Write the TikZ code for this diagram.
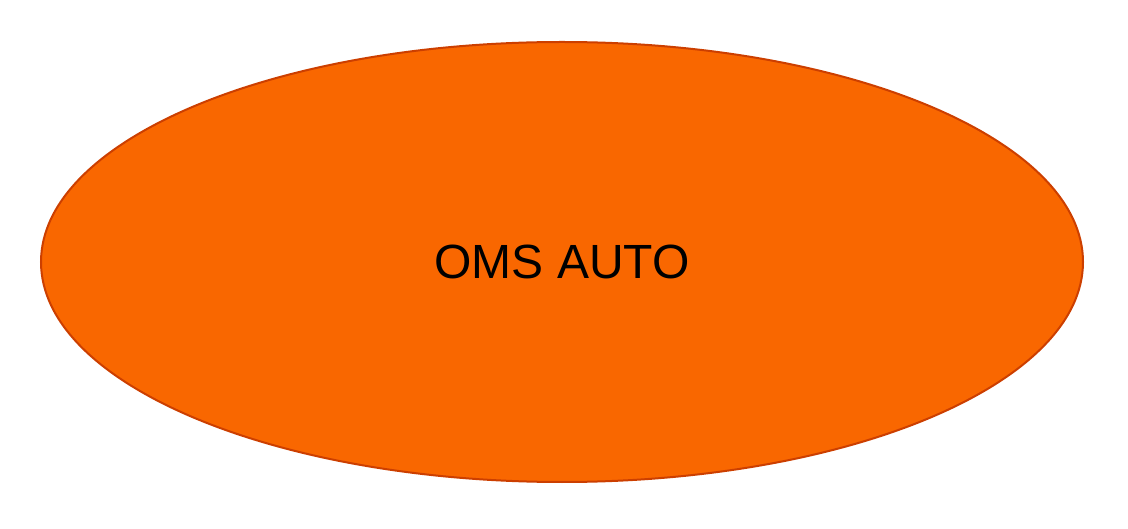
\documentclass[tikz,border=0pt]{standalone}
\usepackage{fontspec}
\setmainfont{Liberation Sans}
\definecolor{fillor}{HTML}{F96700}
\definecolor{lineor}{HTML}{CC3F00}
\tikzset{oval/.style={ellipse,draw=lineor,line width=2pt,fill=fillor,minimum width=1042pt,minimum height=440pt,inner sep=0pt,font=\fontsize{48}{56}\selectfont}}
\usetikzlibrary{shapes.geometric}
\begin{document}
\begin{tikzpicture}[x=1pt,y=1pt]
\useasboundingbox (0,0) rectangle (1128,528);
\node[oval] (oms) at (562,266) {OMS AUTO};
\end{tikzpicture}
\end{document}
